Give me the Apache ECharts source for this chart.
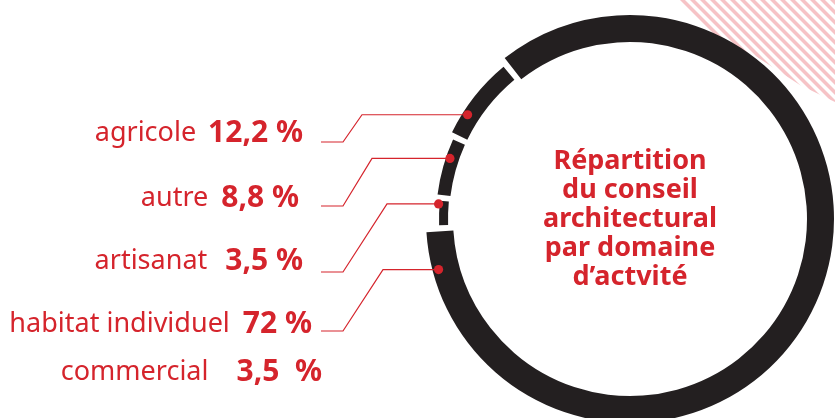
<!DOCTYPE html>
<html>
<head>
<meta charset="utf-8">
<script src="https://cdn.jsdelivr.net/npm/echarts@6/dist/echarts.min.js"></script>
<style>
  html, body { margin: 0; padding: 0; background: #fff; }
  #chart { width: 835px; height: 418px; }
</style>
</head>
<body>
<div id="chart"></div>
<script>
// data
const categories = ['agricole', 'autre', 'artisanat', 'habitat individuel', 'commercial'];
const shareLabels = ['12,2 %', '8,8 %', '3,5 %', '72 %', '3,5  %'];
// how much of the ring each segment takes in the drawing (percent of the full turn)
const ringShares = [7.25, 5.2, 2.55, 85, 0];
const titleText = 'Répartition\ndu conseil\narchitectural\npar domaine\nd’actvité';

// layout / style
const RED = '#d5242c';
const INK = '#231f20';
const STRIPE = '#f6c3c6';
const CENTER = [630, 219];
const RING_START = 128.8; // ring goes counter-clockwise from here
const ringRadius = [[181, 198], [181, 194], [182, 191], [177, 204]];
const dotAngle = [147.3, 161.4, 175.5, 194.8];
const dotRadius = [193, 190, 192, 198];
const rowY = [133, 198, 261, 324, 372];
const rowRight = [303, 299, 303, 312, 322];
const nameGap = [12, 13, 18, 13, 28];
const kneeX = [362, 372, 387, 383];
const leaderY = [142, 206, 272, 331];

const chart = echarts.init(document.getElementById('chart'));

// ring: one pie per segment so each can have its own thickness
const ringSeries = [];
let acc = 0;
ringShares.forEach((share, i) => {
  if (share > 0) {
    ringSeries.push({
      type: 'pie',
      silent: true,
      clockwise: false,
      startAngle: RING_START + acc * 3.6,
      center: CENTER,
      radius: ringRadius[i],
      padAngle: 1.8,
      label: { show: false },
      labelLine: { show: false },
      itemStyle: { borderWidth: 0 },
      data: [
        { name: categories[i], value: share, itemStyle: { color: INK } },
        { name: '', value: 100 - share, itemStyle: { color: 'rgba(0,0,0,0)' } },
      ],
    });
  }
  acc += share;
});

// diagonal stripe tile (10px period, half filled) for the corner decoration
const tile = document.createElement('canvas');
tile.width = 10;
tile.height = 10;
const tctx = tile.getContext('2d');
tctx.fillStyle = STRIPE;
tctx.beginPath();
tctx.moveTo(0, 0);
tctx.lineTo(5, 0);
tctx.lineTo(10, 5);
tctx.lineTo(10, 10);
tctx.closePath();
tctx.fill();
tctx.beginPath();
tctx.moveTo(0, 5);
tctx.lineTo(5, 10);
tctx.lineTo(0, 10);
tctx.closePath();
tctx.fill();

const graphics = [
  {
    type: 'polygon',
    z: 0,
    silent: true,
    shape: {
      points: [[676, 0], [835, 0], [835, 102], [800, 85], [757, 57], [740, 50], [707, 31]],
    },
    style: { fill: { image: tile, repeat: 'repeat' } },
  },
  {
    type: 'text',
    z: 10,
    x: CENTER[0],
    y: CENTER[1],
    style: {
      text: titleText,
      align: 'center',
      verticalAlign: 'middle',
      font: 'bold 27px "Noto Sans"',
      lineHeight: 29,
      fill: RED,
    },
  },
];

categories.forEach((name, i) => {
  graphics.push({
    type: 'text',
    z: 10,
    x: rowRight[i],
    y: rowY[i],
    style: {
      text: '{n|' + name + '}{v|' + shareLabels[i] + '}',
      align: 'right',
      verticalAlign: 'middle',
      font: '27px "Noto Sans"',
      fill: RED,
      rich: {
        n: { fontSize: 27, fontFamily: 'Noto Sans', fill: RED },
        v: {
          fontSize: 30,
          fontFamily: 'Noto Sans',
          fontWeight: 'bold',
          fill: RED,
          padding: [0, 0, 0, nameGap[i]],
        },
      },
    },
  });

  if (i < dotAngle.length) {
    const a = (dotAngle[i] * Math.PI) / 180;
    const dx = CENTER[0] + dotRadius[i] * Math.cos(a);
    const dy = CENTER[1] - dotRadius[i] * Math.sin(a);
    graphics.push({
      type: 'polyline',
      z: 10,
      silent: true,
      shape: {
        points: [[dx, dy], [kneeX[i], dy], [343, leaderY[i]], [321, leaderY[i]]],
      },
      style: { stroke: RED, lineWidth: 1.2, fill: null },
    });
    graphics.push({
      type: 'circle',
      z: 11,
      silent: true,
      shape: { cx: dx, cy: dy, r: 4.6 },
      style: { fill: RED },
    });
  }
});

chart.setOption({
  backgroundColor: '#fff',
  animation: false,
  series: ringSeries,
  graphic: graphics,
});
</script>
</body>
</html>
